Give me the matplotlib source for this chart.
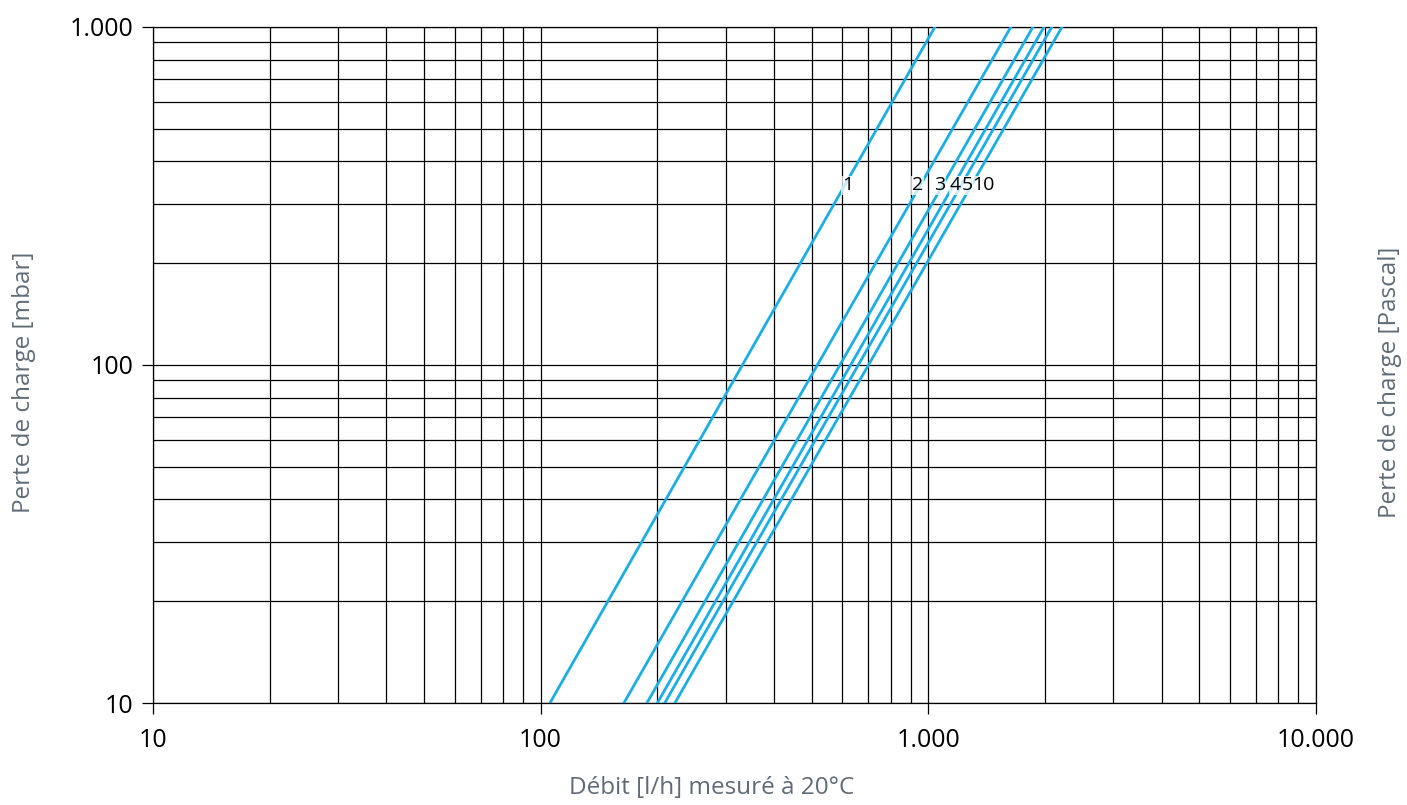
import matplotlib.pyplot as plt
from matplotlib.ticker import FuncFormatter, NullFormatter

# flow [l/h] of each curve at 10 mbar and at 1000 mbar
curve_names = ["1", "2", "3", "4", "5", "10"]
flow_at_10 = [105.7, 164, 188, 200, 209, 222]
flow_at_1000 = [1040, 1633, 1862, 1988, 2083, 2213]

# where the curve numbers are written
label_x = [620, 940, 1071, 1171, 1258, 1391]
label_y = 340

blue = "#1bade6"
grey = "#5f6b76"

plt.rcParams["font.family"] = ["Open Sans", "DejaVu Sans"]

fig = plt.figure(figsize=(14.07, 8.05), dpi=100)
ax = fig.add_axes([0.1087, 0.1267, 0.9353 - 0.1087, 0.9665 - 0.1267])

for name, x0, x1 in zip(curve_names, flow_at_10, flow_at_1000):
    ax.plot([x0, x1], [10, 1000], color=blue, lw=2.0, zorder=3)

for name, lx in zip(curve_names, label_x):
    ax.text(lx, label_y, name, fontsize=14, ha="center", va="center", zorder=4,
            bbox=dict(facecolor="white", edgecolor="none", alpha=0.75, pad=0.5))

ax.set_xscale("log")
ax.set_yscale("log")
ax.set_xlim(10, 10000)
ax.set_ylim(10, 1000)

fmt = FuncFormatter(lambda v, p: f"{int(round(v)):,}".replace(",", "."))
ax.xaxis.set_major_formatter(fmt)
ax.yaxis.set_major_formatter(fmt)
ax.xaxis.set_minor_formatter(NullFormatter())
ax.yaxis.set_minor_formatter(NullFormatter())
ax.tick_params(which="major", length=8, width=0.9, color="black", labelsize=18)
ax.tick_params(axis="x", pad=10)
ax.tick_params(axis="y", pad=6)
ax.tick_params(which="minor", length=0)

ax.grid(which="both", color="black", lw=0.9, zorder=1)
ax.set_axisbelow(True)
for s in ax.spines.values():
    s.set_color("black")
    s.set_linewidth(0.9)

fig.text(0.017, 0.525, "Perte de charge [mbar]", rotation=90, ha="center", va="center",
         fontsize=17.5, color=grey)
fig.text(0.988, 0.525, "Perte de charge [Pascal]", rotation=90, ha="center", va="center",
         fontsize=17.5, color=grey)
fig.text(0.506, 0.021, "Débit [l/h] mesuré à 20°C", ha="center", va="center",
         fontsize=17.5, color=grey)

fig.savefig("out.png", dpi=100)
